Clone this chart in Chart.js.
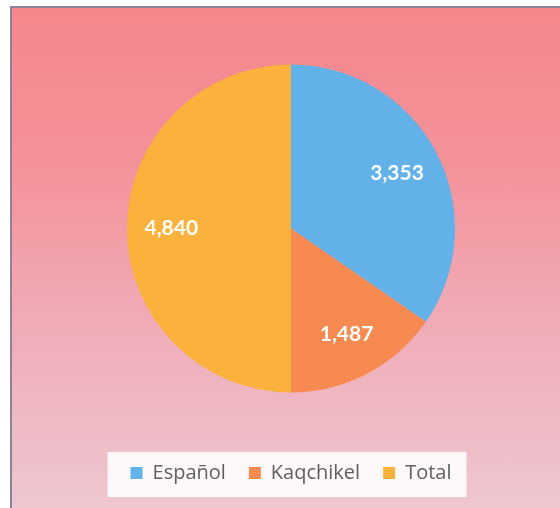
<!DOCTYPE html>
<html>
<head>
<meta charset="utf-8">
<script src="https://cdn.jsdelivr.net/npm/chart.js@4.4.1/dist/chart.umd.min.js"></script>
<style>
  html, body { margin: 0; padding: 0; background: #ffffff; overflow: hidden; }
  #wrap { position: relative; width: 560px; height: 508px; }
  #bg {
    position: absolute; left: 10px; top: 6px; width: 560px; height: 520px;
    border: 2px solid #8d8299;
    background: linear-gradient(to bottom, #f5868c 0%, #f4929a 30%, #f0adb8 62%, #eecad3 100%);
  }
  #js-pie-chart { position: absolute; left: 0; top: 0; }
</style>
</head>
<body>
<div id="wrap">
  <div id="bg"></div>
  <canvas id="js-pie-chart" width="560" height="508"></canvas>
</div>
<script>
// chart data
const categories = ['Español', 'Kaqchikel', 'Total']
const values = [3353, 1487, 4840]
const colors = ['#62b1e8', '#f78a50', '#fbb23c']

// white box behind the legend
const legendBox = {
  id: 'legendBox',
  beforeDraw(chart) {
    const boxes = chart.legend.legendHitBoxes
    if (!boxes || !boxes.length) return
    const first = boxes[0]
    const last = boxes[boxes.length - 1]
    const ctx = chart.ctx
    ctx.save()
    ctx.fillStyle = 'rgba(255,255,255,0.88)'
    ctx.fillRect(first.left - 23, first.top - 11, last.left + last.width - first.left + 38, first.height + 25)
    ctx.restore()
  }
}

// value labels inside the slices
const sliceLabels = {
  id: 'sliceLabels',
  afterDatasetsDraw(chart) {
    const ctx = chart.ctx
    const meta = chart.getDatasetMeta(0)
    ctx.save()
    ctx.fillStyle = '#ffffff'
    ctx.font = 'bold 21px Lato'
    ctx.textAlign = 'center'
    ctx.textBaseline = 'middle'
    meta.data.forEach((arc, i) => {
      const mid = (arc.startAngle + arc.endAngle) / 2
      const r = arc.outerRadius * 0.73
      const x = arc.x + Math.cos(mid) * r
      const y = arc.y + Math.sin(mid) * r
      ctx.fillText(values[i].toLocaleString('en-US'), x, y)
    })
    ctx.restore()
  }
}

const pieChartContext = document.getElementById('js-pie-chart').getContext('2d')

const newPieChart = new Chart(pieChartContext, {
  type: 'pie',
  data: {
    labels: categories,
    datasets: [
      {
        data: values,
        backgroundColor: colors,
        borderWidth: 0,
        radius: 164,
      },
    ],
  },
  options: {
    responsive: false,
    animation: false,
    layout: { padding: { left: 22, right: 0, top: 17, bottom: 15 } },
    plugins: {
      tooltip: { enabled: false },
      legend: {
        position: 'bottom',
        labels: {
          boxWidth: 12,
          boxHeight: 12,
          padding: 23,
          color: '#5f5f5f',
          font: { family: 'Open Sans', size: 20 },
        },
      },
    },
  },
  plugins: [legendBox, sliceLabels],
})
</script>
</body>
</html>
